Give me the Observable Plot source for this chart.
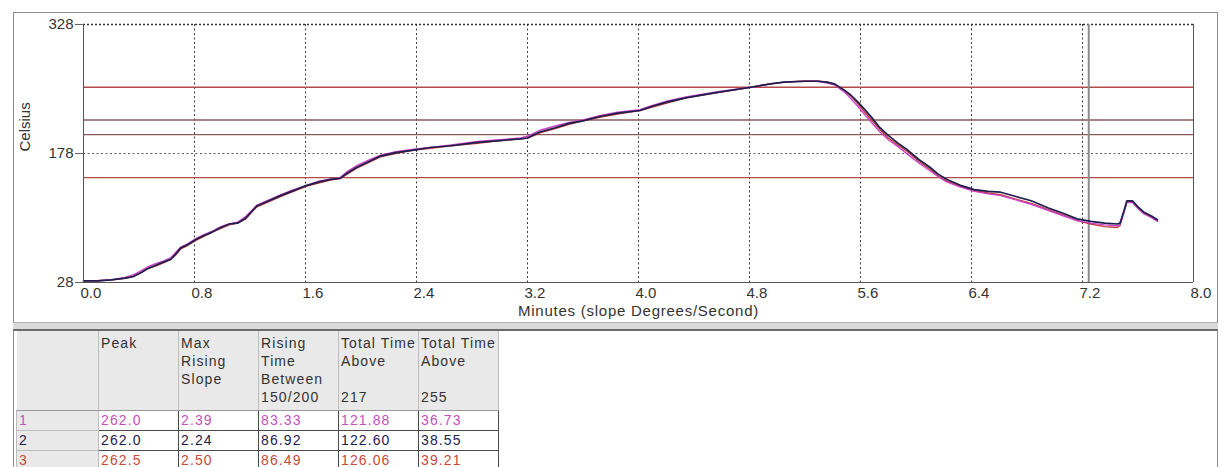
<!DOCTYPE html>
<html>
<head>
<meta charset="utf-8">
<script src="https://cdn.jsdelivr.net/npm/d3@7"></script>
<script src="https://cdn.jsdelivr.net/npm/@observablehq/plot@0.6"></script>
<style>
html, body { margin: 0; padding: 0; background: #fff; }
#wrap { position: relative; width: 1227px; height: 467px; overflow: hidden; font-family: "Liberation Sans", Arial, sans-serif; color: #333; }
#chart svg { display: block; }
#panelTop { position: absolute; left: 13px; top: 12px; width: 1203px; height: 309px; border: 1px solid #8c8c8c; pointer-events: none; }
#split { position: absolute; left: 13px; top: 322px; width: 1205px; height: 7px; background: #dadada; border-top: 1px solid #b0b0b0; }
#panelBottom { position: absolute; left: 13px; top: 329px; width: 1203px; height: 150px; border-left: 1px solid #8c8c8c; border-right: 1px solid #8c8c8c; border-top: 2px solid #6a6a6a; background: #fff; }
#stats { position: absolute; left: 2px; top: 0; border-collapse: collapse; font-size: 14px; letter-spacing: 1.1px; table-layout: fixed; }
#stats th { background: #e9e9e9; font-weight: normal; text-align: left; vertical-align: top; padding: 3px 0 0 2px; line-height: 18px; height: 79px; white-space: pre-line; border-right: 1px solid #bdbdbd; border-bottom: 1px solid #9a9a9a; color: #333; box-sizing: border-box; overflow: hidden; }
#stats td { padding: 0 2px; height: 19px; line-height: 18px; border: 1px solid #4a4a4a; background: #fff; white-space: nowrap; overflow: hidden; }
#stats td.rh { background: #e9e9e9; border: 1px solid #bdbdbd; }
</style>
</head>
<body>
<div id="wrap">
  <div id="chart"></div>
  <div id="panelTop"></div>
  <div id="split"></div>
  <div id="panelBottom"><table id="stats"></table></div>
</div>
<script>
// ---- data ----
const minutes = [0.00,0.10,0.20,0.30,0.36,0.42,0.46,0.52,0.58,0.63,0.67,0.70,0.75,0.81,0.86,0.92,0.99,1.05,1.11,1.17,1.22,1.25,1.32,1.42,1.50,1.61,1.70,1.78,1.85,1.90,1.97,2.05,2.14,2.25,2.38,2.50,2.65,2.84,3.00,3.15,3.20,3.25,3.29,3.40,3.50,3.60,3.72,3.85,4.01,4.10,4.21,4.35,4.57,4.81,4.95,5.05,5.20,5.29,5.36,5.41,5.48,5.53,5.58,5.62,5.68,5.74,5.80,5.87,5.94,6.02,6.10,6.16,6.22,6.32,6.42,6.52,6.61,6.72,6.83,6.95,7.07,7.16,7.26,7.36,7.45,7.47,7.50,7.52,7.56,7.60,7.64,7.70,7.74];

const probe1 = [30,30,31,34,37,42,46,50,53,57,64,69,73,79,83,87,93,96,98,105,113,118,123,130,135,141,146,148,150,157,164,170,176,180,183,185,188,192,194,196,198,202,205,210,214,217,222,226,229,234,239,244,250,255,259,261,262,262,260,258,
  250,242,233,225,214,203,194,186,177,167,158,151,145,139,134,131,129,124,119,112,105,100,97,95,94,95,110,121,121,114,108,103,99];

const probe2 = [30,30,31,33,35,40,44,48,52,55,62,68,72,78,82,86,92,96,97,103,112,117,122,129,134,141,145,148,149,155,162,168,175,179,182,185,187,191,193,195,196,200,203,208,213,216,221,225,228,233,238,243,249,255,259,261,262,262,261,259,
  252,246,238,231,220,208,199,190,182,171,162,154,148,141,136,134,133,128,123,115,108,102,99,97,96,97,112,123,123,116,110,105,101];

const probe3 = [30,30,31,33,35,40,44,47,51,55,61,67,71,77,81,86,91,95,97,102,111,116,121,128,133,140,144,147,149,154,161,167,174,178,182,184,187,190,193,195,196,199,202,207,212,216,220,224,228,232,237,243,249,255,259,261,262.5,262.5,261,259,
  252,245,236,228,217,206,196,188,180,169,160,152,146,140,135,132,130,125,120,113,106,100,96,93,92,94,111,122,122,115,109,104,100];

const probeNames = ["1", "2", "3"];
const probeColors = ["#cc44c8", "#1e1e4e", "#c23a36"];
const thresholds = [150, 200, 217, 255];
const thresholdColors = ["#b24a4a", "#8c5a5a", "#8c5a5a", "#b24a4a"];
const xTicks = [0, 0.8, 1.6, 2.4, 3.2, 4.0, 4.8, 5.6, 6.4, 7.2, 8.0];
const yTicks = [28, 178, 328];
const cursorMinute = 7.245;
const xLabel = "Minutes (slope Degrees/Second)";
const yLabel = "Celsius";

const statHeaders = ["", "Peak", "Max\nRising\nSlope", "Rising\nTime\nBetween\n150/200", "Total Time\nAbove\n\n217", "Total Time\nAbove\n\n255"];
const statPeak = ["262.0", "262.0", "262.5"];
const statMaxSlope = ["2.39", "2.24", "2.50"];
const statRiseTime = ["83.33", "86.92", "86.49"];
const statAbove217 = ["121.88", "122.60", "126.06"];
const statAbove255 = ["36.73", "38.55", "39.21"];
const rowTextColors = ["#c850bc", "#1e2050", "#c84a3a"];

// ---- build series table ----
const seriesValues = [probe1, probe2, probe3];
const series = probeNames.map((name, i) => minutes.map((m, j) => ({probe: name, minute: m, celsius: seriesValues[i][j]})));

const drawOrder = [2, 0, 1];
const widths = [1.4, 1.7, 1.4];

const chart = Plot.plot({
  width: 1227,
  height: 322,
  marginLeft: 83,
  marginRight: 34,
  marginTop: 24,
  marginBottom: 40,
  x: {domain: [0, 8]},
  y: {domain: [28, 328]},
  style: {fontFamily: "'Liberation Sans', Arial, sans-serif", fontSize: "15px", color: "#333", background: "transparent"},
  marks: [
    Plot.ruleX(xTicks.filter(d => d > 0 && d < 8), {stroke: "#3c3c3c", strokeDasharray: "2,2.5", strokeWidth: 1}),
    Plot.ruleY([178], {stroke: "#5a5a6a", strokeDasharray: "2,2.5", strokeWidth: 1}),
    Plot.ruleY([328], {stroke: "#333", strokeDasharray: "2,2", strokeWidth: 1.3}),
    ...thresholds.map((t, i) => Plot.ruleY([t], {stroke: thresholdColors[i], strokeWidth: 1.4})),
    Plot.ruleX([cursorMinute], {stroke: "#8c8c8c", strokeWidth: 2}),
    ...drawOrder.map(i => Plot.line(series[i], {x: "minute", y: "celsius", stroke: probeColors[i], strokeWidth: widths[i]})),
    Plot.ruleX([0], {stroke: "#555"}),
    Plot.ruleX([8], {stroke: "#555"}),
    Plot.ruleY([28], {stroke: "#555"}),
    Plot.axisY(yTicks, {tickSize: 8, tickPadding: 2, stroke: "#666", label: null, fontSize: 15}),
    Plot.axisX(xTicks, {tickSize: 0, tickPadding: 5, tickFormat: d => d.toFixed(1), textAnchor: "start", dx: -3, label: null, fontSize: 15}),
    Plot.text([xLabel], {text: d => d, frameAnchor: "bottom", dy: 33, fontSize: 15, fill: "#333"}),
    Plot.text([yLabel], {text: d => d, frameAnchor: "left", dx: -58, dy: -2, rotate: -90, fontSize: 15, fill: "#333"})
  ]
});
d3.select(chart).selectAll("text").filter(function () { return this.textContent === xLabel; }).style("letter-spacing", "0.75px");
document.getElementById("chart").appendChild(chart);

// ---- stats table ----
const table = document.getElementById("stats");
const hr = document.createElement("tr");
statHeaders.forEach((h, i) => {
  const th = document.createElement("th");
  th.textContent = h;
  th.style.width = (i === 0 ? 82 : 80) + "px";
  hr.appendChild(th);
});
table.appendChild(hr);
probeNames.forEach((name, r) => {
  const tr = document.createElement("tr");
  const cells = [name, statPeak[r], statMaxSlope[r], statRiseTime[r], statAbove217[r], statAbove255[r]];
  cells.forEach((c, i) => {
    const td = document.createElement("td");
    td.textContent = c;
    td.style.color = rowTextColors[r];
    if (i === 0) td.className = "rh";
    tr.appendChild(td);
  });
  table.appendChild(tr);
});
</script>
</body>
</html>
